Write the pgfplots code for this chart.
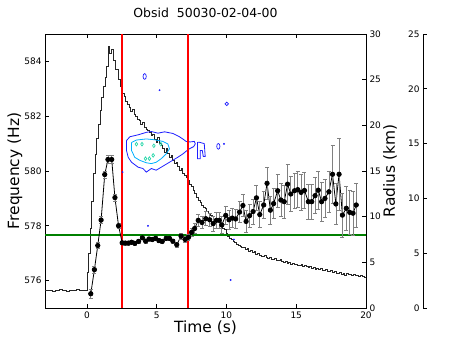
\documentclass[border=0pt]{standalone}
\usepackage{fontspec}
\setmainfont{DejaVu Sans}
\usepackage{pgfplots}
\pgfplotsset{compat=1.18}

\definecolor{ctblue}{RGB}{30,30,255}
\definecolor{ctcyan}{RGB}{0,175,255}
\definecolor{ctteal}{RGB}{40,215,170}
\definecolor{mplgreen}{RGB}{0,128,0}

\pgfplotsset{
  every axis/.append style={
    scale only axis, width=321bp, height=274bp,
    tick label style={font=\fontsize{9}{10}\selectfont},
    label style={font=\fontsize{15.5}{17}\selectfont},
    /pgf/number format/assume math mode=true,
    major tick length=4bp, tick align=inside,
    axis line style={line width=0.9bp},
    tick style={line width=0.7bp, black},
  }
}

% frequency measurements: time, frequency, error
\pgfplotstableread{
t f e
0.28 575.52 0.15
0.54 576.40 0.13
0.78 577.28 0.12
1.02 578.21 0.12
1.28 579.87 0.13
1.51 580.42 0.15
1.78 580.42 0.15
2.01 579.03 0.12
2.27 578.00 0.10
2.53 577.38 0.07
2.75 577.37 0.07
2.98 577.37 0.07
3.20 577.40 0.07
3.43 577.36 0.07
3.70 577.43 0.07
3.98 577.56 0.07
4.21 577.44 0.07
4.45 577.52 0.07
4.69 577.50 0.07
4.92 577.54 0.07
5.16 577.46 0.07
5.40 577.43 0.07
5.68 577.54 0.07
5.92 577.54 0.07
6.16 577.44 0.07
6.44 577.31 0.08
6.75 577.62 0.10
7.04 577.50 0.12
7.28 577.58 0.12
7.50 577.76 0.15
7.72 577.90 0.18
7.98 578.20 0.22
8.25 578.12 0.22
8.52 578.26 0.25
8.80 578.22 0.25
9.05 578.08 0.28
9.28 578.20 0.28
9.48 578.20 0.30
9.67 578.03 0.30
9.95 578.38 0.32
10.18 578.22 0.35
10.42 578.28 0.35
10.66 578.25 0.35
10.94 578.50 0.38
11.18 578.74 0.40
11.41 578.16 0.40
11.66 578.37 0.42
11.91 578.52 0.45
12.15 579.02 0.45
12.39 578.41 0.48
12.67 578.76 0.50
12.91 579.55 0.60
13.15 578.57 0.50
13.38 578.81 0.55
13.67 579.28 0.60
13.90 578.94 0.60
14.14 578.88 0.60
14.38 579.52 0.72
14.61 579.16 0.65
14.88 579.28 0.65
15.11 579.32 0.65
15.35 579.22 0.65
15.59 579.29 0.65
15.87 578.88 0.65
16.11 578.88 0.65
16.35 579.10 0.65
16.58 579.30 0.70
16.82 578.88 0.70
17.06 579.00 0.70
17.34 579.24 0.75
17.60 579.88 1.05
17.84 578.80 0.75
18.07 579.88 1.30
18.31 578.39 0.80
18.59 578.64 0.80
18.83 578.49 0.80
19.07 578.46 0.80
19.30 578.76 0.80
}\freqdata

% light curve, scaled onto the frequency axis
\pgfplotstableread{
t c
-3.0 575.63
-2.75 575.66
-2.5 575.62
-2.25 575.65
-2.0 575.67
-1.75 575.64
-1.5 575.62
-1.25 575.66
-1.0 575.63
-0.75 575.67
-0.5 575.64
-0.25 575.66
0.0 575.65
0.06 576.3
0.12 577.0
0.24 577.9
0.36 578.9
0.47 579.9
0.59 580.6
0.71 581.2
0.83 581.7
0.95 582.2
1.06 582.7
1.18 583.1
1.30 583.4
1.42 583.8
1.51 584.55
1.65 584.3
1.75 584.45
1.90 584.05
2.05 583.7
2.25 583.35
2.40 583.1
2.55 582.85
2.67 582.73
2.79 582.55
2.91 582.43
3.03 582.31
3.15 582.19
3.27 582.26
3.39 582.07
3.51 582.0
3.63 581.89
3.75 581.83
3.87 581.7
3.99 581.77
4.11 581.59
4.23 581.53
4.35 581.47
4.47 581.41
4.59 581.29
4.71 581.35
4.83 581.17
4.95 581.05
5.07 581.23
5.19 580.99
5.31 580.93
5.43 580.81
5.55 580.68
5.67 580.81
5.79 580.63
5.91 580.51
6.03 580.57
6.15 580.39
6.27 580.27
6.39 580.33
6.51 580.15
6.63 580.03
6.75 580.09
6.87 579.91
6.99 579.85
7.11 579.78
7.23 579.65
7.35 579.5
7.47 579.42
7.6 579.28
7.72 579.19
7.85 579.05
7.97 578.94
8.1 578.85
8.22 578.76
8.35 578.68
8.47 578.64
8.6 578.52
8.72 578.46
8.85 578.38
8.97 578.34
9.1 578.22
9.22 578.25
9.35 578.16
9.47 578.05
9.6 577.98
9.72 577.9
9.85 577.86
9.97 577.72
10.1 577.62
10.22 577.55
10.35 577.5
10.47 577.44
10.6 577.38
10.72 577.32
10.85 577.3
10.97 577.26
11.1 577.22
11.22 577.2
11.35 577.14
11.47 577.17
11.6 577.08
11.72 577.1
11.85 577.02
11.97 577.05
12.1 576.96
12.22 576.99
12.35 576.93
12.47 576.9
12.6 576.88
12.72 576.92
12.85 576.84
12.97 576.8
13.1 576.84
13.22 576.78
13.35 576.76
13.47 576.8
13.6 576.74
13.72 576.72
13.85 576.76
13.97 576.7
14.1 576.66
14.22 576.7
14.35 576.64
14.47 576.66
14.6 576.6
14.72 576.63
14.85 576.58
14.97 576.6
15.1 576.57
15.22 576.56
15.35 576.6
15.47 576.52
15.6 576.55
15.72 576.5
15.85 576.47
15.97 576.52
16.1 576.45
16.22 576.48
16.35 576.42
16.47 576.45
16.6 576.4
16.72 576.46
16.85 576.38
16.97 576.36
17.1 576.4
17.22 576.34
17.35 576.32
17.47 576.38
17.6 576.3
17.72 576.33
17.85 576.28
17.97 576.26
18.1 576.3
18.22 576.24
18.35 576.25
18.47 576.2
18.6 576.27
18.72 576.22
18.85 576.23
18.97 576.18
19.1 576.22
19.22 576.2
19.35 576.19
19.47 576.16
19.6 576.2
19.72 576.14
19.85 576.12
20.0 576.12
}\lightcurve

\begin{document}
\begin{tikzpicture}
\begin{axis}[
  xmin=-3, xmax=20, ymin=575, ymax=585,
  xtick={0,5,10,15,20}, ytick={576,578,580,582,584},
  xtick pos=both, ytick pos=left,
  xlabel={Time (s)}, ylabel={Frequency (Hz)},
  xlabel style={at={(axis description cs:0.5,-0.073)}, anchor=center},
  ylabel style={at={(axis description cs:-0.094,0.5)}, anchor=center},
  title={Obsid\ \ 50030-02-04-00},
  title style={font=\fontsize{12.5}{14}\selectfont, at={(axis description cs:0.5,1.055)}, anchor=center},
  clip=true,
]
% light curve
\addplot[const plot, black!85, line width=0.8bp] table[x=t, y=c] {\lightcurve};

% contours
\addplot[ctblue, line width=0.8bp] coordinates {
(2.84,581.11)(3.08,581.25)(3.67,581.32)(4.26,581.41)(4.62,581.44)(5.09,581.38)
(5.57,581.43)(6.16,581.37)(6.63,581.25)(6.87,581.17)(7.11,581.08)(7.40,581.06)
(7.70,581.08)(7.77,580.99)(7.65,580.89)(7.34,580.81)(7.11,580.72)(6.87,580.62)
(6.51,580.50)(5.92,580.32)(5.33,580.14)(4.97,580.03)(4.62,580.09)(4.26,579.96)
(4.02,580.09)(3.67,580.14)(3.20,580.32)(2.96,580.50)(2.84,580.75)(2.84,581.11)};
\addplot[ctcyan, line width=0.8bp] coordinates {
(3.20,581.04)(3.55,581.13)(4.26,581.17)(4.85,581.14)(5.44,581.08)(5.80,580.99)
(5.92,580.81)(5.69,580.63)(5.33,580.45)(4.97,580.32)(4.62,580.27)(4.26,580.30)
(3.79,580.39)(3.43,580.50)(3.20,580.75)(3.20,581.04)};
\addplot[ctteal, line width=0.7bp, only marks, mark=o, mark size=1.3bp, mark options={yscale=1.4}]
  coordinates {(3.55,580.98)(3.95,580.98)(4.80,580.92)(4.75,580.57)(4.20,580.45)(4.48,580.45)(5.30,580.98)};
\addplot[ctblue, line width=0.8bp] coordinates {
(7.93,581.05)(7.93,580.45)(8.12,580.45)(8.12,580.75)(8.27,580.75)(8.34,580.53)
(8.48,580.53)(8.41,581.00)(8.05,581.05)(7.93,581.05)};
\addplot[ctblue, line width=0.7bp, only marks, mark=o, mark size=1.6bp, mark options={yscale=1.8}]
  coordinates {(4.14,583.45)(9.42,580.90)};
\addplot[ctblue, line width=0.7bp, only marks, mark=o, mark size=1.8bp]
  coordinates {(10.02,582.45)};
\addplot[ctblue, only marks, mark=*, mark size=0.7bp]
  coordinates {(5.21,582.95)(2.56,579.96)(4.38,578.00)(10.30,576.02)(9.83,580.99)(10.54,577.50)};

% guide lines
\addplot[mplgreen, line width=1.5bp] coordinates {(-3,577.66)(20,577.66)};
\addplot[red, line width=2bp] coordinates {(2.5,575)(2.5,585)};
\addplot[red, line width=2bp] coordinates {(7.22,575)(7.22,585)};

% frequency track
\addplot[black, line width=0.8bp, mark=*, mark size=2.2bp,
  error bars/.cd, y dir=both, y explicit,
  error bar style={gray, line width=0.7bp},
  error mark options={gray, rotate=90, mark size=2bp, line width=0.7bp}]
  table[x=t, y=f, y error=e] {\freqdata};
\end{axis}

\begin{axis}[
  xmin=0, xmax=1, ymin=0, ymax=30,
  axis x line=none, axis y line*=right,
  ytick={0,5,...,30},
  ylabel={Radius (km)},
  ylabel style={at={(axis description cs:1.075,0.5)}, anchor=center},
]
\end{axis}

\begin{axis}[
  at={(378bp,0)}, width=10bp,
  xmin=0, xmax=1, ymin=0, ymax=25,
  axis x line=none, axis y line*=left,
  ytick={0,5,...,25},
]
\end{axis}

\pgfresetboundingbox
\path[use as bounding box] (-45bp,-35bp) rectangle (412bp,308bp);
\end{tikzpicture}
\end{document}
